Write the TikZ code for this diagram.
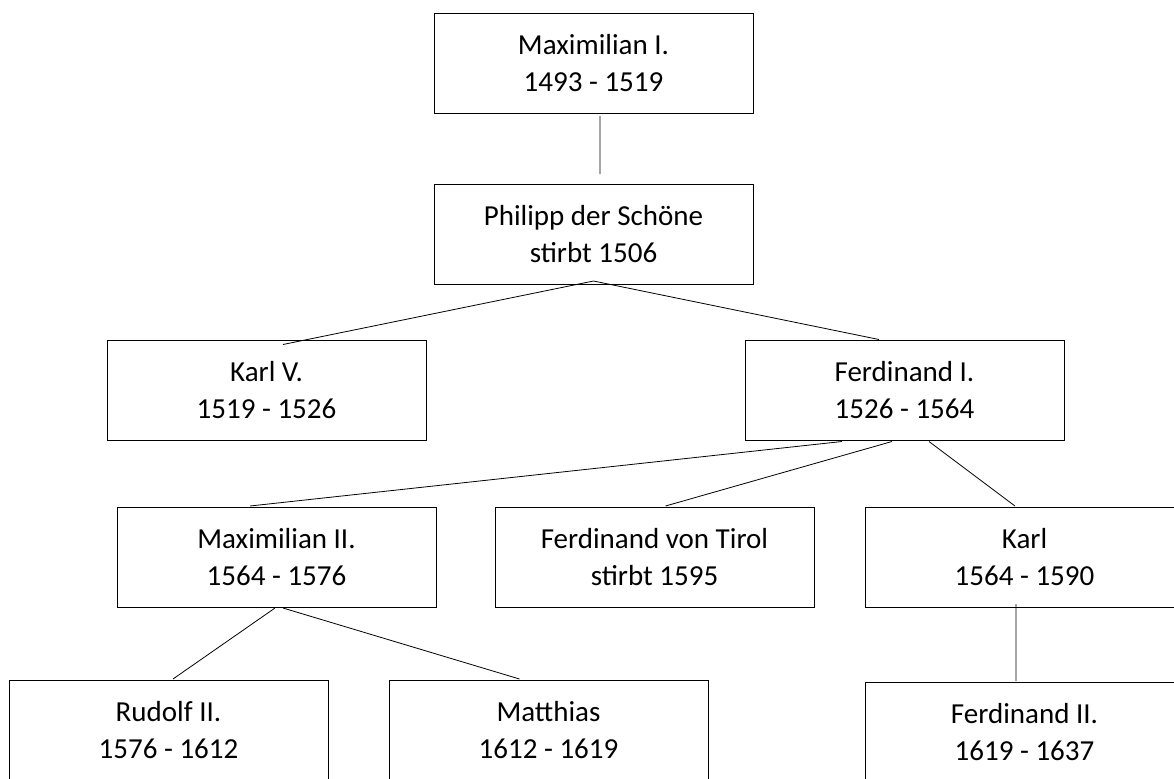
\documentclass[tikz,border=0pt]{standalone}
\usepackage{fontspec}
\setmainfont{Carlito}
\usetikzlibrary{positioning, calc}

\begin{document}
\begin{tikzpicture}[x=0.5pt, y=-0.5pt]
            \tikzset{
                line width=1pt, % enotna debelina crt
                herrscher/.style={draw, minimum width=159.5pt, minimum height=50pt, inner sep=0pt, align=center, font=\fontsize{14.5}{18.5}\selectfont}, % okvir za vladarja
            }

            \clip (0,0) rectangle (1174,778);

            \node[herrscher] (maxI) at (593.5,63) {Maximilian I.\\1493 - 1519};
            \node[herrscher, below=34.5pt of maxI] (philipp) {Philipp der Schöne\\stirbt 1506};
            \node[herrscher] (karlV) at (266.5,390.5) {Karl V.\\1519 - 1526};
            \node[herrscher, right=158.5pt of karlV] (ferdI) {Ferdinand I.\\1526 - 1564};
            \node[herrscher] (maxII) at (276.5,557) {Maximilian II.\\1564 - 1576};
            \node[herrscher, right=28.5pt of maxII] (tirol) {Ferdinand von Tirol\\stirbt 1595};
            \node[herrscher, right=24.5pt of tirol] (karl) {Karl\\1564 - 1590};
            \node[herrscher] (rudolf) at (168.5,730) {Rudolf II.\\1576 - 1612};
            \node[herrscher, right=29.5pt of rudolf] (matthias) {Matthias\\1612 - 1619};
            \node[herrscher, below=36.5pt of karl] (ferdII) {Ferdinand II.\\1619 - 1637};

            \draw
            ($(maxI.south)+(6.5,2)$) -- ($(philipp.north)+(6.5,-9)$)
            ($(philipp.south)+(0,-4)$) -- ($(karlV.north)+(16.5,5)$)
            ($(philipp.south)+(0,-4)$) -- ($(ferdI.north)+(-25.5,0)$)
            ($(ferdI.south)+(-62.5,0)$) -- ($(maxII.north)+(-26.5,0)$)
            ($(ferdI.south)+(-12.5,0)$) -- ($(tirol.north)+(11,0)$)
            ($(ferdI.south)+(24.5,0)$) -- ($(karl.north)+(-9.5,0)$)
            ($(maxII.south)+(-1.5,0)$) -- ($(rudolf.north)+(4.5,0)$)
            ($(maxII.south)+(6.5,0)$) -- ($(matthias.north)+(-29,0)$)
            ($(karl.south)+(-8.5,-4)$) -- ($(ferdII.north)+(-8.5,0)$);
\end{tikzpicture}
\end{document}
